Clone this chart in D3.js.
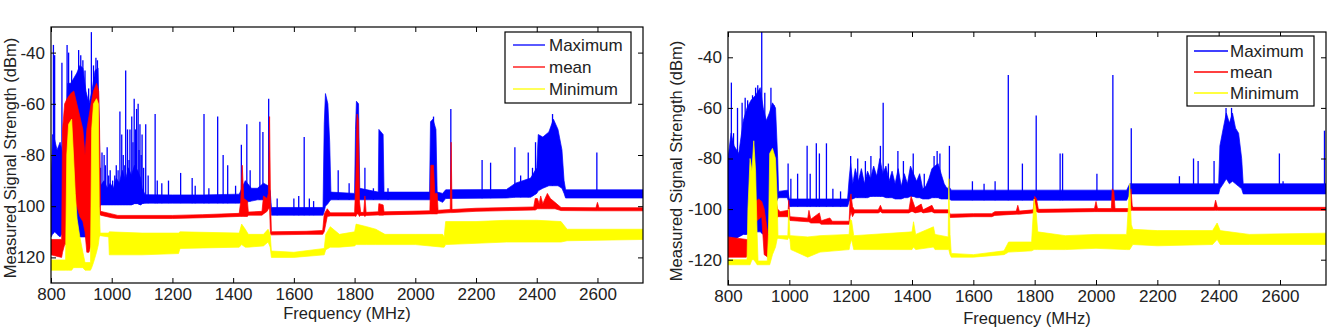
<!DOCTYPE html>
<html>
<head>
<meta charset="utf-8">
<script src="https://cdn.jsdelivr.net/npm/d3@7"></script>
<style>
  body { margin: 0; background: #fff; }
  svg { display: block; font-family: "Liberation Sans", Arial, sans-serif; }
  .axis text { font-size: 17px; fill: #222; }
  .axis line { stroke: #000; }
  .axis path { display: none; }
</style>
</head>
<body>
<svg id="chart" width="1334" height="328"></svg>
<script>
// legend order == draw order (MATLAB style)
const seriesNames = ['Maximum', 'mean', 'Minimum'];
const seriesColors = ['#0000ff', '#ff0000', '#ffff00'];

const xTicks = [800, 1000, 1200, 1400, 1600, 1800, 2000, 2200, 2400, 2600];
const yTicks = [-120, -100, -80, -60, -40];
const yTickLabelsLeft = ['120', '100', '-80', '-60', '-40'];
const yTickLabelsRight = ['-120', '-100', '-80', '-60', '-40'];

// each row: [MHz, low dBm, high dBm] of the dense trace
const leftMax = [
  [800,-112,-92],[805,-111,-72],[812,-110,-74],[820,-111,-78],[830,-112,-75],[840,-110,-80],[848,-110,-72],
  [855,-112,-52],[865,-112,-52],[875,-112,-50],[885,-112,-48],[895,-112,-45],[905,-112,-46],[915,-112,-55],[925,-112,-60],[935,-112,-55],[945,-112,-47],[955,-112,-46],
  [960,-100,-75],[963,-99.5,-92],[975,-99.5,-90],[985,-99.5,-93],[995,-99.5,-91],[1005,-99.5,-93],[1015,-99.5,-89],[1025,-99.5,-91],[1035,-99.5,-86],[1045,-99.5,-90],
  [1055,-99.5,-85],[1065,-99.5,-88],[1075,-99,-84],[1085,-99,-86],[1095,-99.5,-89],[1100,-99,-93],[1110,-98.8,-95.5],
  [1200,-98.8,-95.6],[1300,-98.8,-95.6],[1420,-98.8,-95.3],[1440,-98.5,-90],[1460,-98,-93],[1480,-97.5,-93],[1500,-97.5,-91],[1515,-97.5,-92],[1522,-98,-94],
  [1526,-103.5,-100.5],[1600,-103.5,-100.5],[1696,-103.5,-100.5],
  [1700,-102,-68],[1704,-100,-56],[1712,-99,-60],[1718,-98,-75],[1722,-97.5,-94.5],
  [1800,-97.5,-95],[1803,-97.5,-70],[1806,-97.5,-59],[1813,-97.5,-60],[1817,-97.5,-93],
  [1878,-97.5,-94.5],[1880,-97.5,-70],[1894,-97.5,-72],[1897,-97.5,-94.5],
  [2047,-97.5,-94.5],[2050,-97.5,-67],[2058,-97.5,-66],[2068,-97.5,-70],[2072,-97.5,-94.5],
  [2090,-98.5,-95],[2100,-97,-93.6],[2300,-96.8,-93.5],[2330,-96.5,-91],[2380,-96.5,-89],[2400,-95,-85],[2405,-94,-72],[2420,-93,-73],[2440,-92,-71],[2455,-92,-66],[2470,-92,-70],[2483,-93,-78],[2490,-95,-90],[2495,-96.8,-93.6],
  [2750,-96.8,-93.6]
];
// narrow peaks: [MHz, top dBm]
const leftMaxSpikes = [
  [808,-37],[812,-41],[836,-44],[853,-37],[858,-40],[868,-47],[880,-50],[891,-39],[898,-41],[905,-43],[912,-47],[924,-54],[933,-32],[940,-45],[948,-42],[953,-43],
  [963,-85],[968,-79],[975,-80],[979,-84],[985,-77],[990,-88],[995,-86],[1003,-90],[1010,-88],[1015,-84],[1021,-86],[1027,-63],[1033,-72],[1038,-80],[1043,-84],[1046,-47],[1052,-70],[1057,-82],[1060,-70],
  [1066,-65],[1070,-75],[1074,-58],[1078,-70],[1082,-62],[1087,-60],[1090,-78],[1093,-68],[1097,-80],[1100,-72],[1105,-85],[1112,-68],[1120,-88],
  [1143,-64],[1150,-90],[1165,-91],[1187,-90],[1227,-87],[1265,-89],[1275,-92],[1304,-64],[1320,-93],[1349,-65],[1367,-80],[1382,-84],[1408,-92],[1427,-76],[1445,-68],[1456,-86],[1488,-67],[1498,-71],[1517,-58],
  [1545,-97],[1600,-97],[1616,-96],[1634,-73],[1651,-97],[1665,-98],
  [1746,-86],[1782,-91],[1834,-85],[1862,-93],[1910,-93],[2060,-65],[2117,-62],[2220,-82],[2248,-83],[2328,-77],[2347,-88],[2372,-79],[2386,-85],[2396,-75],[2452,-64],[2598,-79]
];
const leftMean = [
  [800,-119,-113],[835,-120,-113],
  [838,-118,-70],[845,-115,-60],[853,-115,-58],[865,-105,-56],[875,-100,-55],[885,-100,-60],[895,-104,-65],[905,-106,-70],[912,-110,-80],[918,-118,-70],[925,-118,-65],[932,-115,-60],[940,-100,-55],[950,-90,-52],[957,-90,-55],[960,-103,-70],[963,-103.5,-102],
  [1000,-104.5,-103],[1020,-104.8,-103.6],[1200,-104.8,-103.6],[1300,-104.5,-103.3],[1420,-104,-102.8],
  [1425,-104,-98],[1430,-104,-84],[1435,-104,-97],[1447,-104,-98],[1450,-103.5,-102.3],
  [1495,-103.5,-102],[1500,-103,-96],[1512,-102,-97],[1516,-101,-95],[1520,-101,-65],[1523,-111,-98],[1526,-111.2,-110],
  [1640,-111,-109.8],[1695,-111,-109.5],[1700,-110,-103],[1710,-104,-101],[1720,-103.8,-102.6],
  [1800,-103.8,-102.6],[1804,-104,-90],[1808,-103,-64],[1812,-103,-66],[1816,-104,-98],[1820,-103.6,-102.4],
  [1830,-103.6,-102.4],[1834,-104,-96],[1838,-103.6,-102.4],
  [1878,-103.4,-102.2],[1880,-103.5,-99],[1894,-103.5,-99.5],[1897,-103.4,-102.2],
  [2048,-103,-101.8],[2051,-103,-84],[2060,-103,-84],[2064,-103,-95],[2072,-103,-95],[2075,-102.8,-101.6],
  [2115,-102.5,-101.3],[2118,-102.5,-75],[2121,-102.5,-101.3],
  [2200,-102,-100.8],[2390,-101.5,-100.3],[2395,-101.5,-97],[2402,-101,-97],[2408,-101,-99],[2413,-101,-96],[2420,-101,-99],[2435,-101,-95],[2445,-101,-97],[2460,-101,-98.5],[2480,-101.7,-100.5],
  [2595,-101.8,-100.6],[2600,-101.8,-98.5],[2605,-101.8,-100.6],[2750,-101.8,-100.6]
];
const leftMin = [
  [800,-125,-121],[848,-125,-121],
  [852,-125,-80],[858,-125,-68],[868,-125,-66],[874,-124,-80],[880,-124,-95],[886,-124,-105],[895,-124,-112],[905,-124,-118],[912,-125,-122],[930,-125,-122],[934,-124,-70],[940,-122,-60],[950,-118,-58],[956,-115,-60],[959,-112,-100],[962,-111.5,-110.5],
  [990,-112,-110.5],[992,-119,-110],[1100,-119,-110.5],[1220,-118.5,-110.5],[1225,-116.5,-110],[1420,-116,-110.5],[1428,-115,-107],[1440,-116,-109],[1450,-116,-111],[1500,-115.5,-111],[1515,-114,-109],[1522,-116,-111],
  [1526,-120,-117.5],[1600,-120,-118],[1700,-119,-116.5],[1705,-117,-111],[1720,-116,-108],[1750,-116,-111],[1800,-115.5,-110],
  [1805,-115,-107],[1840,-115,-108],[1870,-115,-109],[1900,-115,-111],[2000,-115,-111],[2090,-116,-111],[2095,-116,-112],
  [2100,-115,-106],[2200,-114.5,-106],[2300,-114,-105.5],[2400,-114,-105.5],[2480,-114,-106],[2500,-113.5,-109],[2750,-113,-109]
];

const rightMax = [
  [800,-112,-80],[810,-111,-70],[820,-112,-75],[835,-111,-78],[850,-110,-65],[862,-110,-60],[875,-109,-57],[890,-109,-55],[905,-109,-52],[915,-110,-60],[925,-110,-65],[935,-109,-62],[945,-100,-58],[955,-98,-60],[962,-96,-80],[965,-95.5,-93],
  [995,-95.5,-92.5],[1000,-99,-96],[1190,-99,-96],
  [1195,-97,-88],[1200,-96,-82],[1207,-96,-90],[1215,-95.5,-84],[1225,-95.5,-89],[1235,-95.5,-84],[1245,-95.5,-90],[1255,-95.5,-85],[1265,-95,-88],[1275,-95,-83],[1285,-95,-87],[1295,-95,-80],
  [1305,-95,-86],[1315,-95.5,-83],[1325,-95.5,-89],[1335,-95.5,-85],[1345,-96,-90],[1355,-96,-84],[1365,-96,-91],[1375,-95.5,-86],[1385,-95.5,-90],[1395,-95,-83],[1405,-95,-86],
  [1415,-95.5,-89],[1425,-95.5,-86],[1435,-96,-92],[1445,-96,-91],[1455,-96,-88],[1465,-95.5,-84],[1475,-95.5,-83],[1485,-95.5,-82],[1495,-96,-86],[1505,-96,-90],[1515,-96,-92],[1520,-96,-91],
  [1528,-96.5,-92.5],[1700,-96.5,-92.5],[2100,-96.5,-92.5],[2110,-94,-90],[2400,-94,-90],
  [2404,-92,-75],[2415,-90,-68],[2425,-88,-62],[2435,-90,-66],[2445,-89,-62],[2455,-90,-68],[2465,-91,-70],[2475,-92,-80],[2480,-94,-90],[2750,-94,-90]
];
const rightMaxSpikes = [
  [811,-50],[818,-70],[831,-60],[846,-58],[856,-56],[864,-57],[870,-62],[880,-55],[890,-52],[897,-51],[910,-30],[920,-54],[940,-52],[950,-59],
  [996,-82],[1005,-88],[1027,-86],[1058,-75],[1068,-86],[1088,-74],[1098,-78],[1121,-74],[1142,-92],[1167,-93],
  [1200,-79],[1223,-80],[1248,-81],[1266,-79],[1297,-75],[1306,-58],[1323,-82],[1354,-77],[1372,-81],[1404,-78],[1440,-86],[1472,-79],[1482,-77],[1491,-78],[1522,-75],
  [1597,-89],[1635,-90],[1671,-89],[1714,-47],[1760,-82],[1805,-63],[1883,-78],[1891,-78],[2003,-86],[2055,-47],[2115,-68],[2272,-87],[2318,-80],[2333,-81],[2385,-81],[2424,-60],[2442,-60],[2598,-78],[2610,-89],[2650,-91],[2745,-69]
];
const rightMean = [
  [800,-119,-111],[860,-119,-112],[866,-118,-112],
  [880,-110,-100],[890,-105,-97],[900,-104,-96],[910,-103,-97],[918,-118,-100],[930,-119,-110],[937,-112,-100],[945,-105,-95],[955,-104,-96],[962,-103,-100],
  [970,-103,-101],[996,-103,-100.5],[998,-104,-96.5],[1002,-104.5,-103],
  [1060,-105,-103.6],[1064,-105,-100.5],[1070,-105.5,-104],[1098,-105.5,-101.5],[1104,-106,-104.6],[1132,-106,-103.5],[1140,-106,-104.8],[1195,-106,-104.8],
  [1198,-103,-96],[1201,-101,-94],[1206,-103,-99],[1212,-101.5,-100.3],
  [1290,-101.5,-100.3],[1297,-101,-98.5],[1303,-101.5,-100.3],[1390,-101.5,-100.3],[1397,-101,-95],[1403,-101,-97],[1410,-101.5,-99.5],[1430,-101,-98],[1436,-101.5,-100.3],[1465,-101,-98.5],[1472,-101.5,-100.3],[1520,-101.5,-100.3],
  [1524,-103.3,-102],[1600,-103,-101.8],[1660,-103,-101.8],[1670,-102.5,-101],[1740,-102,-100.8],[1745,-102,-98.5],[1750,-102,-100.8],[1795,-101.5,-100.3],[1800,-101,-95],[1806,-101,-96],[1812,-101.3,-100.1],
  [1995,-101,-99.8],[2000,-101,-97],[2005,-101,-99.8],[2050,-101,-99.8],[2053,-101,-92],[2058,-101,-93],[2062,-101,-99.8],[2110,-101,-99.8],[2114,-100.5,-92],[2118,-100.5,-98.5],
  [2120,-100.5,-99.3],[2385,-100.5,-99.3],[2390,-100.5,-96.5],[2396,-100.5,-99.3],[2750,-100.5,-99.3]
];
const rightMin = [
  [800,-122,-120],[862,-122,-120],[865,-122,-100],[872,-122,-80],[878,-120,-85],[884,-120,-73],[890,-121,-85],[895,-122,-110],[898,-122,-120.5],[928,-122,-120.5],[932,-122,-110],[936,-122,-78],[945,-118,-76],[955,-115,-80],[960,-112,-95],[963,-111.5,-110.5],
  [995,-112,-110.5],[998,-111,-100],[1002,-112,-110.5],[1005,-116,-110.5],[1060,-119,-111],[1100,-117,-110.5],[1195,-116,-110],[1198,-114,-104],[1203,-112,-104.5],[1210,-116,-110.5],
  [1400,-116,-109],[1405,-115,-105],[1412,-116,-110],[1470,-115,-107],[1475,-116,-110],[1518,-116,-111],[1520,-116,-88],[1524,-118,-110],
  [1528,-119,-117.5],[1600,-119,-118],[1700,-118,-116.5],[1715,-117,-113],[1790,-116.5,-113],[1798,-116,-96],[1804,-116,-100],[1810,-116,-109],
  [1900,-116,-110.5],[2000,-115.5,-110],[2100,-116,-110],[2110,-116,-90],[2115,-115,-106],[2120,-114,-108],[2200,-114.5,-108.5],[2380,-114,-108.5],[2395,-112,-105.5],[2405,-114,-108.5],[2500,-114,-110],[2750,-114,-109.5]
];

class SpectrumPanel {
  constructor(_config, _data) {
    this.config = {
      id: _config.id,
      left: _config.left,
      top: _config.top,
      width: _config.width,
      height: _config.height,
      yTickLabels: _config.yTickLabels,
      xLabelY: _config.xLabelY,
      yLabelX: _config.yLabelX,
      yLabelY: _config.yLabelY,
      legend: _config.legend
    };
    this.data = _data;
    this.initVis();
  }

  initVis() {
    let vis = this;
    vis.width = vis.config.width;
    vis.height = vis.config.height;

    vis.xScale = d3.scaleLinear().domain([800, 2750]).range([0, vis.width]);
    vis.yScale = d3.scaleLinear().domain([-130, -30]).range([vis.height, 0]);

    vis.chart = d3.select('#chart').append('g')
      .attr('transform', `translate(${vis.config.left},${vis.config.top})`);

    vis.chart.append('clipPath').attr('id', 'clip-' + vis.config.id)
      .append('rect').attr('width', vis.width).attr('height', vis.height);

    vis.plot = vis.chart.append('g').attr('clip-path', `url(#clip-${vis.config.id})`);

    // inward ticks on all four sides
    vis.xAxis = d3.axisBottom(vis.xScale).tickValues(xTicks).tickSizeInner(-5).tickSizeOuter(0).tickPadding(5)
      .tickFormat(d3.format('d'));
    vis.xAxisTop = d3.axisTop(vis.xScale).tickValues(xTicks).tickSizeInner(-5).tickSizeOuter(0).tickFormat('');
    vis.yAxis = d3.axisLeft(vis.yScale).tickValues(yTicks).tickSizeInner(-5).tickSizeOuter(0).tickPadding(6)
      .tickFormat((d, i) => vis.config.yTickLabels[i]);
    vis.yAxisRight = d3.axisRight(vis.yScale).tickValues(yTicks).tickSizeInner(-5).tickSizeOuter(0).tickFormat('');

    vis.chart.append('text')
      .attr('x', vis.width / 2)
      .attr('y', vis.config.xLabelY)
      .attr('text-anchor', 'middle')
      .attr('font-size', '16.5px')
      .attr('fill', '#222')
      .text('Frequency (MHz)');

    vis.chart.append('text')
      .attr('transform', `translate(${vis.config.yLabelX},${vis.config.yLabelY}) rotate(-90)`)
      .attr('text-anchor', 'middle')
      .attr('font-size', '16.5px')
      .attr('fill', '#222')
      .text('Measured Signal Strength (dBm)');
  }

  renderVis() {
    let vis = this;

    vis.area = d3.area()
      .x(d => vis.xScale(d[0]))
      .y0(d => vis.yScale(d[1]))
      .y1(d => vis.yScale(d[2]));

    vis.data.forEach((s, i) => {
      vis.plot.append('path')
        .datum(s.env)
        .attr('fill', seriesColors[i])
        .attr('stroke', seriesColors[i])
        .attr('stroke-width', 0.7)
        .attr('d', vis.area);

      // spike base follows the bottom of the band
      let base = d3.scaleLinear().domain(s.env.map(d => d[0])).range(s.env.map(d => d[1]));
      vis.plot.selectAll('.spike-' + i)
        .data(s.spikes)
        .join('line')
        .attr('class', 'spike-' + i)
        .attr('x1', d => vis.xScale(d[0]))
        .attr('x2', d => vis.xScale(d[0]))
        .attr('y1', d => vis.yScale(d[1]))
        .attr('y2', d => vis.yScale(base(d[0])))
        .attr('stroke', seriesColors[i])
        .attr('stroke-width', 1.3);
    });

    // frame
    vis.chart.append('rect')
      .attr('width', vis.width).attr('height', vis.height)
      .attr('fill', 'none').attr('stroke', '#000').attr('stroke-width', 1.2);

    vis.chart.append('g').attr('class', 'axis').attr('transform', `translate(0,${vis.height})`).call(vis.xAxis);
    vis.chart.append('g').attr('class', 'axis').call(vis.xAxisTop);
    vis.chart.append('g').attr('class', 'axis').call(vis.yAxis);
    vis.chart.append('g').attr('class', 'axis').attr('transform', `translate(${vis.width},0)`).call(vis.yAxisRight);

    // legend
    let lg = vis.config.legend;
    let legend = vis.chart.append('g').attr('transform', `translate(${lg.x},${lg.y})`);
    legend.append('rect')
      .attr('width', lg.w).attr('height', lg.h)
      .attr('fill', '#fff').attr('stroke', '#000').attr('stroke-width', 1.2);
    seriesNames.forEach((name, i) => {
      let ry = lg.row0 + i * lg.gap;
      legend.append('line')
        .attr('x1', lg.line0).attr('x2', lg.line1)
        .attr('y1', ry).attr('y2', ry)
        .attr('stroke', seriesColors[i]).attr('stroke-width', 1.3);
      legend.append('text')
        .attr('x', lg.textX).attr('y', ry + 6)
        .attr('font-size', '17px').attr('fill', '#222')
        .text(name);
    });
  }
}

const leftPanel = new SpectrumPanel({
  id: 'a', left: 51, top: 27, width: 592, height: 256,
  yTickLabels: yTickLabelsLeft, xLabelY: 292, yLabelX: -35, yLabelY: 131,
  legend: {x: 454, y: 5, w: 126, h: 71, row0: 13, gap: 22, line0: 8, line1: 40, textX: 44}
}, [
  {env: leftMax, spikes: leftMaxSpikes},
  {env: leftMean, spikes: []},
  {env: leftMin, spikes: []}
]);
leftPanel.renderVis();

const rightPanel = new SpectrumPanel({
  id: 'b', left: 728, top: 32, width: 598, height: 253,
  yTickLabels: yTickLabelsRight, xLabelY: 292, yLabelX: -46, yLabelY: 129,
  legend: {x: 459, y: 4, w: 127, h: 70, row0: 15, gap: 21, line0: 7, line1: 41, textX: 43}
}, [
  {env: rightMax, spikes: rightMaxSpikes},
  {env: rightMean, spikes: []},
  {env: rightMin, spikes: []}
]);
rightPanel.renderVis();
</script>
</body>
</html>
